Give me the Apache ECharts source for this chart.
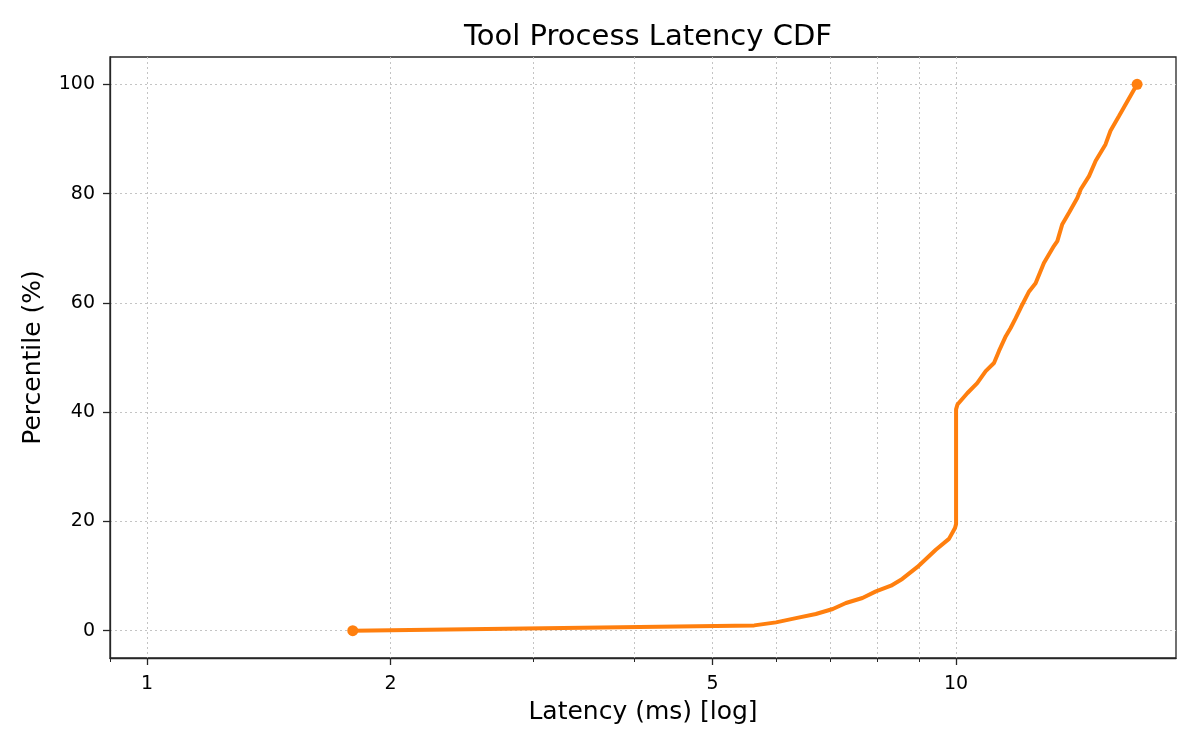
<!DOCTYPE html>
<html>
<head>
<meta charset="utf-8">
<script src="https://cdn.jsdelivr.net/npm/echarts@6/dist/echarts.min.js"></script>
<style>
html,body{margin:0;padding:0;background:#fff;}
#chart{width:1200px;height:750px;}
</style>
</head>
<body>
<div id="chart"></div>
<script>
// Latency (ms) values of the CDF curve
const latencyMs = [1.796, 5.63, 5.99, 6.34, 6.71, 7.04, 7.31, 7.66, 7.96, 8.31, 8.58, 8.96, 9.44, 9.80, 9.97, 10.0, 10.0, 10.04, 10.33, 10.62, 10.88, 11.14, 11.30, 11.52, 11.68, 11.85, 12.02, 12.31, 12.54, 12.84, 13.21, 13.34, 13.53, 13.79, 14.12, 14.26, 14.60, 14.88, 15.30, 15.52, 15.90, 16.74];
// Percentile (%) values of the CDF curve
const percentile = [0, 0.97, 1.52, 2.3, 3.05, 3.97, 5.07, 5.98, 7.2, 8.24, 9.47, 11.67, 14.8, 16.8, 18.8, 19.5, 40.5, 41.4, 43.5, 45.3, 47.5, 49.0, 51.2, 53.9, 55.4, 57.2, 59.1, 62.1, 63.6, 67.3, 70.4, 71.3, 74.4, 76.5, 79.2, 80.8, 83.2, 86.0, 89.0, 91.5, 94.2, 100];
// tick labels
const xMajorTicks = [1, 2, 5, 10];
const xMinorTicks = [0.9, 3, 4, 6, 7, 8, 9];
const yTicks = [0, 20, 40, 60, 80, 100];

const curve = latencyMs.map((x, i) => [x, percentile[i]]);
const ends = [curve[0], curve[curve.length - 1]];

const FONT = 'DejaVu Sans';
const COLOR = '#ff7f0e';
const gridLine = { show: true, lineStyle: { color: '#c4c4c4', type: [2, 3], width: 1 } };

const chart = echarts.init(document.getElementById('chart'));
chart.setOption({
  animation: false,
  backgroundColor: '#ffffff',
  title: {
    text: 'Tool Process Latency CDF',
    left: 643, top: 18, textAlign: 'center',
    textStyle: { fontFamily: FONT, fontSize: 29, fontWeight: 'normal', color: '#000' }
  },
  grid: {
    left: 110, right: 24, top: 57, bottom: 92,
    show: true, borderColor: '#262626', borderWidth: 1.3, backgroundColor: 'transparent'
  },
  xAxis: [
    {
      type: 'log', logBase: 10, min: 0.9, max: 18.7, position: 'bottom',
      name: 'Latency (ms) [log]', nameLocation: 'middle', nameGap: 42,
      nameTextStyle: { fontFamily: FONT, fontSize: 25, color: '#000' },
      axisLine: { show: true, onZero: false, lineStyle: { color: '#262626', width: 1.3 } },
      axisTick: { show: true, length: 7, customValues: xMajorTicks, lineStyle: { color: '#262626', width: 1.3 } },
      axisLabel: { customValues: xMajorTicks, margin: 17, fontFamily: FONT, fontSize: 19, color: '#000',
        formatter: v => String(Math.round(v * 100) / 100) },
      splitLine: gridLine
    },
    {
      type: 'log', logBase: 10, min: 0.9, max: 18.7, position: 'bottom',
      axisLine: { show: false, onZero: false },
      axisTick: { show: true, length: 4, customValues: xMinorTicks, lineStyle: { color: '#262626', width: 1 } },
      axisLabel: { show: false, customValues: xMinorTicks },
      splitLine: gridLine
    }
  ],
  yAxis: {
    type: 'value', min: -5, max: 105,
    name: 'Percentile (%)', nameLocation: 'middle', nameGap: 64, nameRotate: 90,
    nameTextStyle: { fontFamily: FONT, fontSize: 25, color: '#000' },
    axisLine: { show: true, onZero: false, lineStyle: { color: '#262626', width: 1.3 } },
    axisTick: { show: true, length: 7, customValues: yTicks, lineStyle: { color: '#262626', width: 1.3 } },
    axisLabel: { customValues: yTicks, margin: 15, fontFamily: FONT, fontSize: 19, color: '#000' },
    splitLine: gridLine
  },
  series: [
    {
      type: 'line', xAxisIndex: 0, data: curve, showSymbol: false, symbol: 'none',
      lineStyle: { color: COLOR, width: 4 }, z: 3
    },
    {
      type: 'scatter', xAxisIndex: 0, data: ends, symbol: 'circle', symbolSize: 11,
      itemStyle: { color: COLOR, opacity: 1 }, z: 4
    }
  ]
});
</script>
</body>
</html>
